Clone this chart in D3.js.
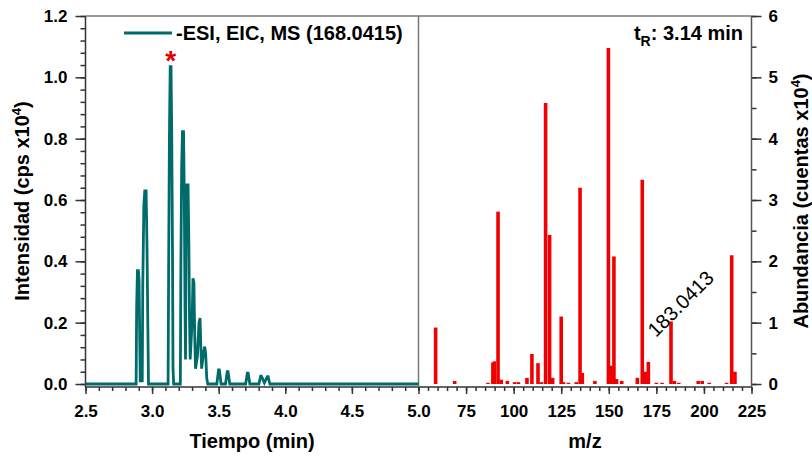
<!DOCTYPE html>
<html>
<head>
<meta charset="utf-8">
<script src="https://cdn.jsdelivr.net/npm/d3@7"></script>
<style>
  body { margin: 0; background: #fff; }
  svg { font-family: "Liberation Sans", Arial, sans-serif; }
</style>
</head>
<body>
<div class="chart"></div>
<script>
// EIC trace (-ESI, m/z 168.0415): time in min, intensity in cps x10^4
const eicTime = [
  2.5, 2.88, 2.884, 2.89, 2.897, 2.902, 2.906, 2.911, 2.926, 2.93, 2.938, 2.945, 2.955, 2.962, 2.968, 2.973,
  3.12, 3.124, 3.13, 3.136, 3.142, 3.147, 3.153, 3.157, 3.162,
  3.212, 3.216, 3.222, 3.228, 3.236, 3.242, 3.247, 3.251, 3.256, 3.262, 3.27, 3.276, 3.281, 3.286,
  3.3, 3.307, 3.314, 3.32, 3.326, 3.34, 3.352, 3.36, 3.366, 3.372, 3.385, 3.395, 3.402, 3.41, 3.418,
  3.486, 3.499, 3.505, 3.518, 3.551, 3.564, 3.57, 3.583, 3.702, 3.715, 3.721, 3.734,
  3.802, 3.815, 3.821, 3.843, 3.865, 3.871, 3.884, 5.0
];
const eicIntensity = [
  0, 0, 0.25, 0.37, 0.37, 0.34, 0.19, 0.01, 0.01, 0.32, 0.58, 0.63, 0.63, 0.44, 0.19, 0,
  0, 0.36, 0.81, 1.035, 1.035, 0.835, 0.44, 0.05, 0,
  0, 0.38, 0.71, 0.823, 0.823, 0.6, 0.25, 0.08, 0.58, 0.649, 0.649, 0.46, 0.21, 0.08,
  0.2, 0.345, 0.33, 0.16, 0.05, 0.09, 0.2, 0.215, 0.12, 0.05, 0.1, 0.122, 0.1, 0.02, 0,
  0, 0.046, 0.046, 0, 0, 0.04, 0.04, 0, 0, 0.035, 0.035, 0,
  0, 0.026, 0.026, 0.004, 0.024, 0.024, 0, 0
];

// MS spectrum at tR 3.14 min: m/z and abundance (cuentas x10^4)
const specMz = [
  59.0, 69.0, 86.5, 89.1, 89.9, 91.8, 93.5, 96.7, 100.5, 102.5, 107.0, 109.6, 112.8, 114.6,
  116.8, 118.9, 120.5, 125.0, 126.2, 128.8, 132.9, 134.9, 136.1, 142.7, 149.8, 151.2, 152.7,
  154.1, 156.8, 165.0, 167.6, 169.4, 170.8, 175.0, 178.0, 182.7, 184.5, 186.8, 197.0, 199.1,
  202.8, 211.9, 214.6, 216.3
];
const specAbundance = [
  0.92, 0.05, 0.02, 0.35, 0.37, 2.81, 0.07, 0.05, 0.03, 0.03, 0.1, 0.49, 0.34, 0.03,
  4.58, 2.43, 0.1, 1.1, 0.03, 0.02, 0.03, 3.2, 0.18, 0.05, 5.48, 0.3, 2.08,
  0.08, 0.05, 0.1, 3.33, 0.2, 0.36, 0.02, 0.02, 1.02, 0.05, 0.02, 0.05, 0.05,
  0.02, 0.02, 2.1, 0.2
];

// tick labels
const timeTicks = [2.5, 3.0, 3.5, 4.0, 4.5, 5.0];
const mzTicks = [75, 100, 125, 150, 175, 200, 225];
const intensityTicks = [0, 0.2, 0.4, 0.6, 0.8, 1.0, 1.2];
const abundanceTicks = [0, 1, 2, 3, 4, 5, 6];

const width = 812, height = 460;
const teal = "#006b6b", red = "#f00000";

const svg = d3.select(".chart").append("svg")
  .attr("width", width)
  .attr("height", height);

// scales
const xT = d3.scaleLinear().domain([2.5, 5.0]).range([85.5, 418.5]);
const xM = d3.scaleLinear().domain([50, 225]).range([418.5, 751.5]);
const yI = d3.scaleLinear().domain([0, 1.2]).range([384, 16]);
const yA = d3.scaleLinear().domain([0, 6]).range([384, 16]);
const axisY = 387;

function styleAxis(g) {
  g.select(".domain").remove();
  g.selectAll("line").attr("stroke", "#333").attr("stroke-width", 1.5);
  g.selectAll("text").attr("fill", "#000").style("font-size", "17px").style("font-weight", "bold");
}

// minor ticks
svg.append("g").attr("transform", `translate(85.5,0)`)
  .call(d3.axisLeft(yI).tickValues(d3.range(0, 1.201, 0.04)).tickSize(5).tickFormat(""))
  .call(styleAxis);
svg.append("g").attr("transform", `translate(751.5,0)`)
  .call(d3.axisRight(yA).tickValues(d3.range(0, 6.01, 0.5)).tickSize(5).tickFormat(""))
  .call(styleAxis);
svg.append("g").attr("transform", `translate(0,${axisY})`)
  .call(d3.axisBottom(xT).tickValues(d3.range(2.5, 5.01, 0.1)).tickSize(4).tickFormat(""))
  .call(styleAxis);
svg.append("g").attr("transform", `translate(0,${axisY})`)
  .call(d3.axisBottom(xM).tickValues(d3.range(50, 225.1, 5)).tickSize(4).tickFormat(""))
  .call(styleAxis);

// major ticks
svg.append("g").attr("transform", `translate(85.5,0)`)
  .call(d3.axisLeft(yI).tickValues(intensityTicks).tickSize(10).tickPadding(8).tickFormat(d3.format(".1f")))
  .call(styleAxis);
svg.append("g").attr("transform", `translate(751.5,0)`)
  .call(d3.axisRight(yA).tickValues(abundanceTicks).tickSize(10).tickPadding(7).tickFormat(d3.format("d")))
  .call(styleAxis);
svg.append("g").attr("transform", `translate(0,${axisY})`)
  .call(d3.axisBottom(xT).tickValues(timeTicks).tickSize(7).tickPadding(11).tickFormat(d3.format(".1f")))
  .call(styleAxis);
svg.append("g").attr("transform", `translate(0,${axisY})`)
  .call(d3.axisBottom(xM).tickValues(mzTicks).tickSize(7).tickPadding(11).tickFormat(d3.format("d")))
  .call(styleAxis);

// frame
const frame = svg.append("g").attr("fill", "none").attr("stroke-width", 1.5);
frame.append("line").attr("x1", 85.5).attr("x2", 751.5).attr("y1", 16).attr("y2", 16).attr("stroke", "#777");
frame.append("line").attr("x1", 85.5).attr("x2", 751.5).attr("y1", axisY).attr("y2", axisY).attr("stroke", "#333");
frame.append("line").attr("x1", 85.5).attr("x2", 85.5).attr("y1", 16).attr("y2", axisY).attr("stroke", "#333");
frame.append("line").attr("x1", 751.5).attr("x2", 751.5).attr("y1", 16).attr("y2", axisY).attr("stroke", "#555");
frame.append("line").attr("x1", xT(5.0)).attr("x2", xT(5.0)).attr("y1", 16).attr("y2", axisY).attr("stroke", "#777");

// EIC trace
const eic = eicTime.map((t, i) => ({ t: t, v: eicIntensity[i] }));
svg.append("path")
  .datum(eic)
  .attr("fill", "none")
  .attr("stroke", teal)
  .attr("stroke-width", 2.8)
  .attr("stroke-linejoin", "miter")
  .attr("d", d3.line().x(d => xT(d.t)).y(d => yI(d.v)));

// spectrum sticks
const spec = specMz.map((m, i) => ({ mz: m, a: specAbundance[i] }));
svg.selectAll(".stick")
  .data(spec)
  .join("line")
  .attr("class", "stick")
  .attr("x1", d => xM(d.mz)).attr("x2", d => xM(d.mz))
  .attr("y1", yA(0)).attr("y2", d => yA(d.a))
  .attr("stroke", red)
  .attr("stroke-width", 3.6);

// asterisk over the main peak
svg.append("text")
  .attr("x", xT(3.14)).attr("y", 70)
  .attr("text-anchor", "middle")
  .attr("fill", "#e00000")
  .style("font-size", "28px").style("font-weight", "bold")
  .text("*");

// legend
svg.append("line")
  .attr("x1", 124).attr("x2", 172).attr("y1", 33).attr("y2", 33)
  .attr("stroke", teal).attr("stroke-width", 3);
svg.append("text")
  .attr("x", 176).attr("y", 40)
  .style("font-size", "20px").style("font-weight", "bold")
  .text("-ESI, EIC, MS (168.0415)");

// retention time label
const tr = svg.append("text")
  .attr("x", 743).attr("y", 40)
  .attr("text-anchor", "end")
  .style("font-size", "20px").style("font-weight", "bold");
tr.append("tspan").text("t");
tr.append("tspan").attr("dy", 6).style("font-size", "14px").text("R");
tr.append("tspan").attr("dy", -6).text(": 3.14 min");

// annotated ion
svg.append("text")
  .attr("transform", `translate(${xM(182.7) - 15},338) rotate(-45)`)
  .style("font-size", "20px")
  .text("183.0413");

// axis titles
svg.append("text")
  .attr("x", 252).attr("y", 448)
  .attr("text-anchor", "middle")
  .style("font-size", "20px").style("font-weight", "bold")
  .text("Tiempo (min)");
svg.append("text")
  .attr("x", 585).attr("y", 448)
  .attr("text-anchor", "middle")
  .style("font-size", "20px").style("font-weight", "bold")
  .text("m/z");

function yTitle(x, label) {
  const t = svg.append("text")
    .attr("transform", `translate(${x},201) rotate(-90)`)
    .attr("text-anchor", "middle")
    .style("font-size", "20px").style("font-weight", "bold");
  t.append("tspan").text(label);
  t.append("tspan").attr("dy", -8).style("font-size", "13px").text("4");
  t.append("tspan").attr("dy", 8).text(")");
}
yTitle(29, "Intensidad (cps x10");
yTitle(808, "Abundancia (cuentas x10");
</script>
</body>
</html>
